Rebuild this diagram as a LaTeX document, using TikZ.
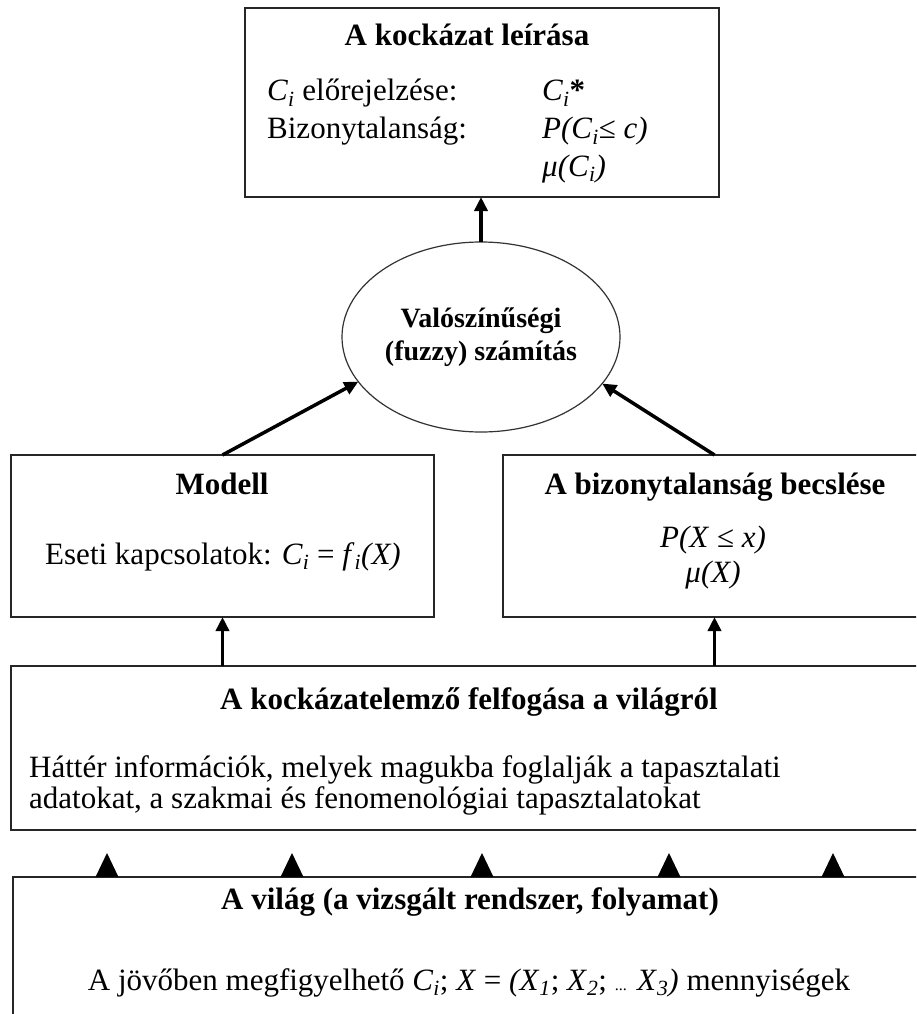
\documentclass[tikz,border=0pt]{standalone}
\usepackage{fontspec}
\setmainfont{Liberation Serif}
\usetikzlibrary{shapes.geometric,arrows.meta}
\newcommand\myfont{\fontsize{31}{37}\selectfont}
\newcommand\ellfont{\fontsize{28}{33}\selectfont}
\newcommand\idx[1]{\textsubscript{\textit{#1}}}
\begin{document}
\begin{tikzpicture}[x=1pt,y=-1pt,
  box/.style={draw=black!85, line width=1.5pt, rectangle, inner sep=0pt, outer sep=0pt},
  lbl/.style={inner sep=0pt, font=\myfont},
  ttl/.style={inner sep=0pt, font=\myfont\bfseries},
  conn/.style={line width=3.5pt, -{Triangle[length=14pt,width=13pt]}},
]
\useasboundingbox (0,0) rectangle (916,1014);
\clip (0,0) rectangle (916,1014);
\fill[white] (0,0) rectangle (916,1014);

% boxes
\node[box, minimum width=474pt, minimum height=189pt] (top) at (482,102.5) {};
\node[draw=black!80, line width=1.2pt, ellipse, minimum width=278pt, minimum height=190pt,
      inner sep=0pt, outer sep=0pt, font=\ellfont\bfseries, align=center] (ell) at (481,337)
      {Valószínűségi\\(fuzzy) számítás};
\node[box, minimum width=423pt, minimum height=162pt] (modell) at (222.5,536) {};
\node[box, minimum width=423pt, minimum height=162pt] (becsl) at (714.5,536) {};
\node[box, minimum width=916pt, minimum height=164pt] (felf) at (469,748) {};
\node[box, minimum width=914pt, minimum height=168pt] (vilag) at (470,961) {};

% top box texts
\node[ttl, anchor=base] (toptitle) at (467,46) {A kockázat leírása};
\node[lbl, anchor=base west] (r1a) at (267,101) {\textit{C}\idx{i} előrejelzése:};
\node[lbl, anchor=base west] (r2a) at (267,139) {Bizonytalanság:};
\node[lbl, anchor=base west] (r1b) at (542,101) {\textit{C}\idx{i}\textbf{*}};
\node[lbl, anchor=base west] (r2b) at (542,139) {\textit{P(C}\idx{i}≤ \textit{c)}};
\node[lbl, anchor=base west] (r3b) at (542,176) {\textit{μ(C}\idx{i}\textit{)}};

% modell
\node[ttl, anchor=base] (mtitle) at (222,494) {Modell};
\node[lbl, anchor=base] (mtext) at (223,564) {Eseti kapcsolatok: \textit{C}\idx{i} = \textit{f}\idx{i}\textit{(X)}};

% becsles
\node[ttl, anchor=base] (btitle) at (715,494) {A bizonytalanság becslése};
\node[lbl, anchor=base] (btext1) at (713,547) {\textit{P(X} ≤ \textit{x)}};
\node[lbl, anchor=base] (btext2) at (713,582) {\textit{μ(X)}};

% felfogas
\node[ttl, anchor=base] (ftitle) at (469,709) {A kockázatelemző felfogása a világról};
\node[lbl, anchor=base west] (ftext1) at (29,777) {Háttér információk, melyek magukba foglalják a tapasztalati};
\node[lbl, anchor=base west] (ftext2) at (29,808) {adatokat, a szakmai és fenomenológiai tapasztalatokat};

% vilag
\node[ttl, anchor=base] (vtitle) at (470,909) {A világ (a vizsgált rendszer, folyamat)};
\node[lbl, anchor=base] (vtext) at (469,990) {A jövőben megfigyelhető \textit{C}\idx{i}; \textit{X} = \textit{(X}\idx{1}; \textit{X}\idx{2}; {\fontsize{16}{16}\selectfont ...} \textit{X}\idx{3}\textit{)} mennyiségek};

% connectors
\draw[conn] (ell.north) -- (ell.north |- top.south);
\draw[conn] (modell.north) -- (ell.200);
\draw[conn] (becsl.north) -- (ell.339);
\draw[conn] (modell.south |- felf.north) -- (modell.south);
\draw[conn] (becsl.south |- felf.north) -- (becsl.south);

% arrowheads from the world
\foreach \xx in {107,292,482,669,833}
  \fill (\xx-11.5,877) -- (\xx,853) -- (\xx+11.5,877) -- cycle;
\end{tikzpicture}
\end{document}
